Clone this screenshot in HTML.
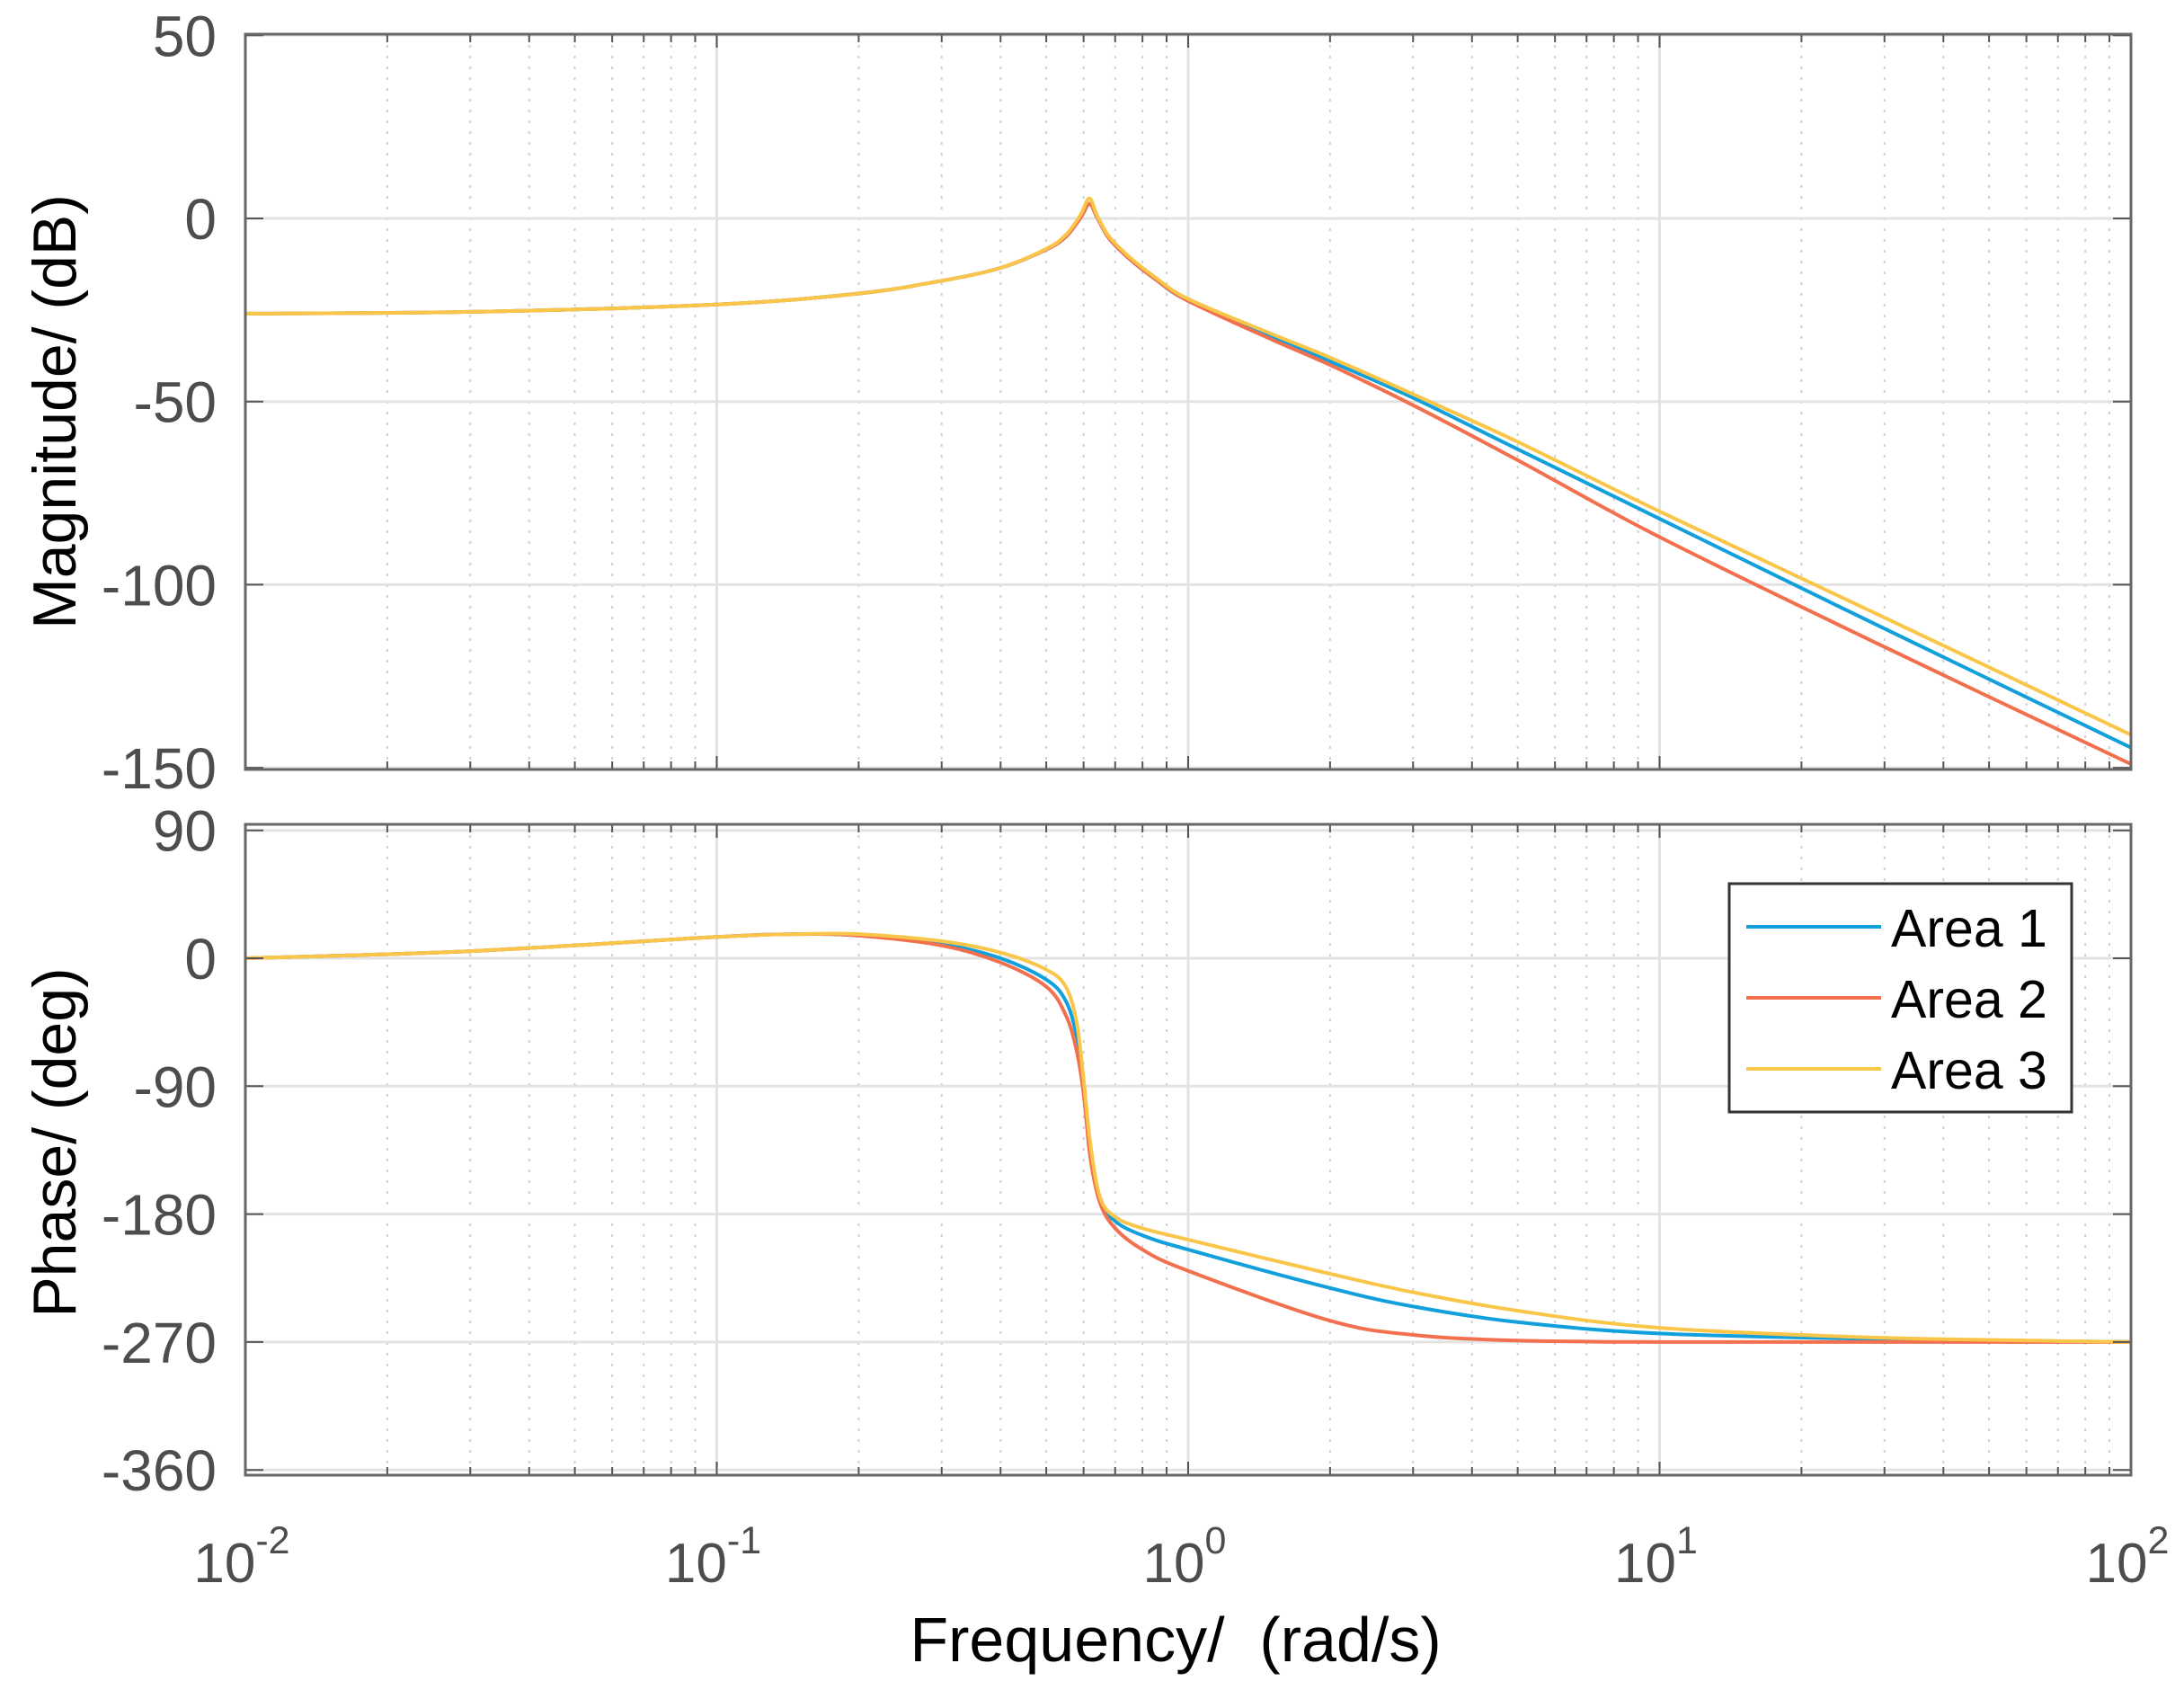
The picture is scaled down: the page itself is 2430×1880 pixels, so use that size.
<!DOCTYPE html>
<html><head><meta charset="utf-8"><style>
html,body{margin:0;padding:0;background:#fff;}
svg{display:block;font-family:"Liberation Sans",Arial,sans-serif;}
</style></head><body>
<svg id="chart" width="2430" height="1880" viewBox="0 0 2430 1880" xmlns="http://www.w3.org/2000/svg">
<rect x="0" y="0" width="2430" height="1880" fill="#fff"/>
<g id="grid"></g>
<g id="series"></g>
<g id="axes"></g>
<g id="labels"></g>
<text x="0" y="0" transform="translate(84,458) rotate(-90)" text-anchor="middle" font-size="68" fill="#000">Magnitude/ (dB)</text>
<text x="0" y="0" transform="translate(84,1271) rotate(-90)" text-anchor="middle" font-size="68" fill="#000">Phase/ (deg)</text>
<text x="1308" y="1848" text-anchor="middle" font-size="70" fill="#000" xml:space="preserve">Frequency/  (rad/s)</text>
<g>
<rect x="1924" y="983" width="381" height="254" fill="#fff" stroke="#333" stroke-width="3"/>
<line x1="1943" y1="1031" x2="2093" y2="1031" stroke="#12a0dc" stroke-width="4"/>
<line x1="1943" y1="1110" x2="2093" y2="1110" stroke="#f2704e" stroke-width="4"/>
<line x1="1943" y1="1189" x2="2093" y2="1189" stroke="#f9c64a" stroke-width="4"/>
<text x="2104" y="1053" font-size="59" fill="#000">Area 1</text>
<text x="2104" y="1132" font-size="59" fill="#000">Area 2</text>
<text x="2104" y="1211" font-size="59" fill="#000">Area 3</text>
</g>
</svg>
<script>
const magFreqs = [0.01,0.03,0.1,0.2,0.3,0.4,0.5,0.55,0.59,0.617,0.64,0.68,0.75,0.85,1,1.5,2,3,5,10,30,100];
const magArea1 = [-26,-25.5,-23.5,-20.5,-17,-13.5,-8.5,-5,0,4,0.5,-5.5,-11,-16.5,-22.5,-32,-39,-49,-63,-82,-112,-144.5];
const magArea2 = [-26,-25.5,-23.5,-20.5,-17,-13.5,-8.5,-5,0,4,0.5,-5.5,-11,-16.5,-22.5,-33,-40,-51,-66,-87,-117,-149];
const magArea3 = [-26,-25.5,-23.5,-20.5,-17,-13.5,-8.3,-4.5,0.8,5.5,1,-5,-10.5,-16,-22,-31.5,-38,-48,-61,-80,-109,-141];
const phFreqs = [0.01,0.03,0.1,0.15,0.2,0.3,0.4,0.5,0.55,0.58,0.6,0.62,0.65,0.7,0.8,1,2,3,5,10,30,100];
const phArea1 = [0,5,15,17,16,10,0,-15,-30,-55,-90,-135,-170,-185,-195,-205,-232,-245,-256,-264,-268,-270];
const phArea2 = [0,5,15,17,16,9,-3,-20,-40,-65,-95,-140,-172,-190,-205,-220,-255,-265,-269,-270,-270,-270];
const phArea3 = [0,5,15,17,17,12,4,-8,-20,-45,-85,-130,-168,-182,-190,-198,-222,-235,-248,-260,-267,-270];
const magTicks = [50,0,-50,-100,-150];
const phTicks = [90,0,-90,-180,-270,-360];
const xTickExps = [-2,-1,0,1,2];

const NS = "http://www.w3.org/2000/svg";
const X0 = 273, X1 = 2371;
const xs = f => X0 + (Math.log10(f) + 2) / 4 * (X1 - X0);
const topBox = {t:38, b:856};
const botBox = {t:917, b:1641};
const yMag = v => 243 + (0 - v) * (203.7 / 50);
const yPh = v => 1066 - v * (142.3 / 90);

function mk(tag, attrs, parent) {
  const el = document.createElementNS(NS, tag);
  for (const k in attrs) el.setAttribute(k, attrs[k]);
  parent.appendChild(el);
  return el;
}
const grid = document.getElementById('grid');
const axes = document.getElementById('axes');
const labels = document.getElementById('labels');
const series = document.getElementById('series');

[[topBox,'magnitude'],[botBox,'phase']].forEach(([bx,nm]) => {
  for (let e = -2; e < 2; e++) {
    for (let m = 2; m <= 9; m++) {
      const x = xs(m * Math.pow(10, e));
      const l = mk('line', {x1:x, x2:x, y1:bx.t, y2:bx.b, stroke:'#d0d0d0', 'stroke-width':2, 'stroke-dasharray':'3 9'}, grid);
      
      
      mk('line', {x1:x, x2:x, y1:bx.b, y2:bx.b-9, stroke:'#555', 'stroke-width':2}, axes);
      mk('line', {x1:x, x2:x, y1:bx.t, y2:bx.t+9, stroke:'#555', 'stroke-width':2}, axes);
    }
  }
  xTickExps.forEach(e => {
    const x = xs(Math.pow(10, e));
    const l = mk('line', {x1:x, x2:x, y1:bx.t, y2:bx.b, stroke:'#e3e3e3', 'stroke-width':3}, grid);
    
    
    mk('line', {x1:x, x2:x, y1:bx.b, y2:bx.b-15, stroke:'#555', 'stroke-width':2}, axes);
    mk('line', {x1:x, x2:x, y1:bx.t, y2:bx.t+15, stroke:'#555', 'stroke-width':2}, axes);
  });
});

magTicks.forEach(v => {
  const y = yMag(v);
  const l = mk('line', {x1:X0, x2:X1, y1:y, y2:y, stroke:'#e3e3e3', 'stroke-width':3}, grid);
  
  
  mk('line', {x1:X0, x2:X0+20, y1:y, y2:y, stroke:'#555', 'stroke-width':2}, axes);
  mk('line', {x1:X1, x2:X1-20, y1:y, y2:y, stroke:'#555', 'stroke-width':2}, axes);
  const t = mk('text', {x:241, y:y+23, 'text-anchor':'end', 'font-size':64, fill:'#4d4d4d'}, labels);
  
  
  t.textContent = String(v);
});
phTicks.forEach(v => {
  const y = yPh(v);
  const l = mk('line', {x1:X0, x2:X1, y1:y, y2:y, stroke:'#e3e3e3', 'stroke-width':3}, grid);
  
  
  mk('line', {x1:X0, x2:X0+20, y1:y, y2:y, stroke:'#555', 'stroke-width':2}, axes);
  mk('line', {x1:X1, x2:X1-20, y1:y, y2:y, stroke:'#555', 'stroke-width':2}, axes);
  const t = mk('text', {x:241, y:y+23, 'text-anchor':'end', 'font-size':64, fill:'#4d4d4d'}, labels);
  
  
  t.textContent = String(v);
});
xTickExps.forEach(e => {
  const x = xs(Math.pow(10, e));
  const t = mk('text', {x:x-4, y:1760, 'text-anchor':'middle', 'font-size':62, fill:'#4d4d4d'}, labels);
  
  
  const a = mk('tspan', {}, t); a.textContent = '10';
  const b = mk('tspan', {dy:-32, 'font-size':43}, t); b.textContent = String(e);
});

[topBox, botBox].forEach(bx => {
  const r = mk('rect', {x:X0, y:bx.t, width:X1-X0, height:bx.b-bx.t, fill:'none', stroke:'#666', 'stroke-width':3}, axes);
  
  
});

function pathFor(freqs, vals, yf) {
  const pts = freqs.map((f, i) => [xs(f), yf(vals[i])]);
  let d = 'M' + pts[0][0].toFixed(1) + ',' + pts[0][1].toFixed(1);
  for (let i = 0; i < pts.length - 1; i++) {
    const p0 = pts[Math.max(0, i-1)], p1 = pts[i], p2 = pts[i+1], p3 = pts[Math.min(pts.length-1, i+2)];
    const c1 = [p1[0] + (p2[0]-p0[0])/6, p1[1] + (p2[1]-p0[1])/6];
    const c2 = [p2[0] - (p3[0]-p1[0])/6, p2[1] - (p3[1]-p1[1])/6];
    d += ' C' + c1.map(v=>v.toFixed(1)).join(',') + ' ' + c2.map(v=>v.toFixed(1)).join(',') + ' ' + p2.map(v=>v.toFixed(1)).join(',');
  }
  return d;
}
const colors = ['#12a0dc', '#f2704e', '#f9c64a'];
[magArea1, magArea2, magArea3].forEach((vals, i) => {
  const p = mk('path', {d: pathFor(magFreqs, vals, yMag), fill:'none', stroke:colors[i], 'stroke-width':4, 'stroke-linejoin':'round'}, series);
  
  
});
[phArea1, phArea2, phArea3].forEach((vals, i) => {
  const p = mk('path', {d: pathFor(phFreqs, vals, yPh), fill:'none', stroke:colors[i], 'stroke-width':4, 'stroke-linejoin':'round'}, series);
  
  
});
</script>
</body></html>
